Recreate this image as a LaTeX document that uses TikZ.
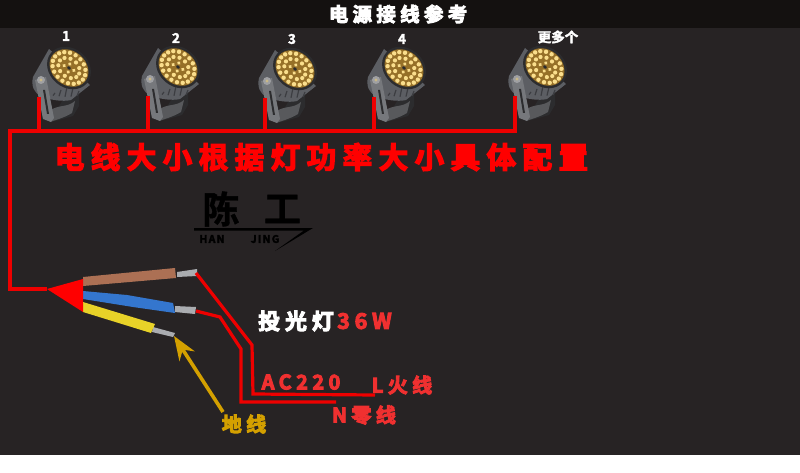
\documentclass[tikz,border=0pt]{standalone}
\usepackage{fontspec}
\usepackage{tikz}
\usetikzlibrary{
  arrows.meta,
  positioning,
}
\newfontfamily\cjk[FakeBold=2.5]{Noto Sans CJK SC Bold}
\newfontfamily\cjkwide[FakeBold=4.5,LetterSpace=22]{Noto Sans CJK SC Bold}
\newfontfamily\cjklogo[FakeBold=1]{Noto Sans CJK SC Bold}
\newfontfamily\cjkhan[FakeBold=3,LetterSpace=12]{Noto Sans CJK SC Bold}
\definecolor{bgdark}{RGB}{39, 35, 36}
\definecolor{bghead}{RGB}{20, 17, 16}
\definecolor{wirered}{RGB}{238, 0, 0}
\definecolor{notered}{RGB}{240, 48, 48}
\definecolor{groundgold}{RGB}{212, 160, 0}
\definecolor{lampbody}{RGB}{92, 94, 99}
\definecolor{lampfin}{RGB}{60, 61, 65}
\definecolor{lamparm}{RGB}{118, 120, 124}
\definecolor{lampbase}{RGB}{88, 89, 92}
\definecolor{lampdark}{RGB}{44, 44, 46}
\definecolor{ledback}{RGB}{150, 112, 40}
\definecolor{ledlight}{RGB}{250, 222, 140}
\definecolor{cablebrown}{RGB}{172, 112, 84}
\definecolor{cableblue}{RGB}{52, 118, 206}
\definecolor{cableyellow}{RGB}{232, 210, 40}
\definecolor{cabletip}{RGB}{170, 172, 176}
\tikzset{
  wire/.style={draw=wirered,line width=3.2pt,line join=miter},
  title/.style={text=white,font=\cjkwide\fontsize{19.5}{20}\selectfont,inner sep=0pt},
  numlabel/.style={text=white,font=\cjk\fontsize{13.5}{14}\selectfont,inner sep=0pt},
  banner/.style={text=red,font=\cjkwide\fontsize{29.5}{30}\selectfont,inner sep=0pt},
  note/.style={text=notered,font=\cjkwide\fontsize{20}{20}\selectfont,inner sep=0pt},
  pics/lamp/.style={code={
    % bracket foot and arm
    \fill[lampdark] (-19,-54) -- (-4,-28) -- (10,-24) -- (10,-38) -- (4,-48) -- (-10,-52) -- cycle;
    \fill[lampbase] (-20,-43) .. controls (-10,-36) and (-2,-40) .. (6,-33) -- (3,-45) .. controls (-5,-50) and (-14,-52) .. (-19,-54) -- cycle;
    \fill[lampbody] (-20,19) -- (-36,-9) .. controls (-38,-18) and (-35,-25) .. (-28,-28)
      .. controls (-20,-32) and (-6,-34) .. (2,-32) -- (21,-17) -- cycle;
    \foreach \f in {-14,-8,...,10}
      \draw[lampfin,line width=1.2pt] (\f,{-18-0.5*abs(\f)}) -- ({\f-2},{-29+0.1*abs(\f)});
    \fill[lamparm] (-34,-12) -- (-23,-9) -- (-15,-50) -- (-18,-54) -- (-26,-51) -- cycle;
    \fill[lampdark] (-26,-22) -- (-24,-22) -- (-20,-46) -- (-22,-46) -- cycle;
    \fill[lamparm!70!white] (-28,-12) circle (4);
    \fill[ledlight!60!gray] (-28,-12) circle (1.7);
    \coordinate (-tap) at (-30,-29);
    % face and leds
    \begin{scope}[rotate=-40]
      \fill[lampdark] (0,0) ellipse (23.5 and 19.5);
      \fill[ledback] (0,0) ellipse (21 and 17);
      \foreach \a in {0,20,...,340}
        \fill[ledlight] ({18*cos(\a)},{14.2*sin(\a)}) circle (2.2);
      \foreach \a in {15,48,...,345}
        \fill[ledlight] ({11.8*cos(\a)},{8.8*sin(\a)}) circle (2.1);
      \foreach \a in {20,110,200,290}
        \fill[ledlight] ({5.6*cos(\a)},{3.8*sin(\a)}) circle (1.9);
      \fill[lampdark] (0,0) ellipse (2 and 1.5);
    \end{scope}
  }},
}

\begin{document}
\begin{tikzpicture}[x=1pt,y=1pt,node distance=0pt and 4pt]

  \useasboundingbox (0,0) rectangle (800,-473);
  \fill[bgdark] (0,0) rectangle (800,-455);
  \fill[bghead] (0,0) rectangle (800,-28);

  \node[title] (head) at (398,-14) {电源接线参考};

  \pic (lamp1) at (69,-68) {lamp};
  \pic (lamp2) at (178,-67) {lamp};
  \pic (lamp3) at (295,-69) {lamp};
  \pic (lamp4) at (404,-68) {lamp};
  \pic (lamp5) at (545,-67) {lamp};

  \node[numlabel] (num1) at (66,-36) {1};
  \node[numlabel] (num2) at (176,-38) {2};
  \node[numlabel] (num3) at (292,-39) {3};
  \node[numlabel] (num4) at (402,-39) {4};
  \node[numlabel] (num5) at (558,-37) {更多个};

  \node[banner] (size) at (321.5,-157) {电线大小根据灯功率大小具体配置};

  % logo
  \node[text=black,font=\cjklogo\fontsize{37}{37}\selectfont,inner sep=0pt] (chen) at (221,-209) {陈};
  \node[text=black,font=\cjklogo\fontsize{37}{37}\selectfont,inner sep=0pt,xshift=20pt] (gong) [right=of chen] {工};
  \node[text=black,font=\cjkhan\fontsize{10.5}{11}\selectfont,inner sep=0pt] (han) at (212,-239) {HAN};
  \node[text=black,font=\cjkhan\fontsize{10.5}{11}\selectfont,inner sep=0pt] (jing) at (265,-239) {JING};
  \fill[black] (194,-228) -- (313,-228) -- (275,-251) -- (304,-230.5) -- (194,-230.5) -- cycle;

  % cables
  \fill[cabletip] (177,-272) -- (197,-269) -- (197,-276) -- (177,-277) -- cycle;
  \fill[cabletip] (175,-306) -- (196,-307) -- (195,-314) -- (175,-312) -- cycle;
  \fill[cabletip] (153,-327) -- (175,-333) -- (173,-337) -- (152,-332) -- cycle;
  \fill[cablebrown] (83,-277) -- (175,-268) -- (176,-278) -- (83,-286) -- cycle;
  \fill[cableblue] (83,-291) -- (127,-295) -- (173,-303) -- (175,-313) -- (133,-307) -- (83,-299) -- cycle;
  \fill[cableyellow] (83,-302) -- (155,-324) -- (151,-333) -- (83,-312) -- cycle;
  \fill[red] (47,-289) -- (83,-279) -- (83,-312) -- cycle;

  \coordinate (plug) at (47,-289);
  \coordinate (corner) at (10,-289);
  \coordinate (bus) at (10,-131);
  \coordinate (hot0) at (196,-273);
  \coordinate (hot1) at (252,-345);
  \coordinate (hot2) at (253,-394);
  \coordinate (hot3) at (375,-395);
  \coordinate (zero0) at (196,-311);
  \coordinate (zero1) at (220,-317);
  \coordinate (zero2) at (241,-349);
  \coordinate (zero3) at (241,-402);
  \coordinate (zero4) at (336,-402);
  \coordinate (gndtip) at (174,-336);
  \coordinate (gndtail) at (223,-412);

  \draw[wire] (plug) -- (corner) -- (bus) -- (bus -| lamp5-tap) -- (lamp5-tap);
  \draw[wire] (lamp1-tap) -- (lamp1-tap |- bus);
  \draw[wire] (lamp2-tap) -- (lamp2-tap |- bus);
  \draw[wire] (lamp3-tap) -- (lamp3-tap |- bus);
  \draw[wire] (lamp4-tap) -- (lamp4-tap |- bus);

  \draw[wire] (hot0) -- (hot1) -- (hot2) -- (hot3);
  \draw[wire] (zero0) -- (zero1) -- (zero2) -- (zero3) -- (zero4);
  \draw[-{Stealth[length=24pt,width=18pt]},draw=groundgold,fill=groundgold,line width=3.6pt] (gndtail) -- (gndtip);

  \node[note,text=white,font=\cjkwide\fontsize{22}{22}\selectfont] (lamptext) at (296,-321) {投光灯};
  \node[note,xshift=-1pt,font=\cjkwide\fontsize{21.5}{22}\selectfont] (watt) [right=of lamptext] {36W};
  \node[note] (ac) at (301,-382) {AC220};
  \node[note] (ltext) at (402,-385) {L火线};
  \node[note] (ntext) at (364,-415) {N零线};
  \node[note,text=groundgold] (gnd) at (244,-424) {地线};

\end{tikzpicture}
\end{document}
